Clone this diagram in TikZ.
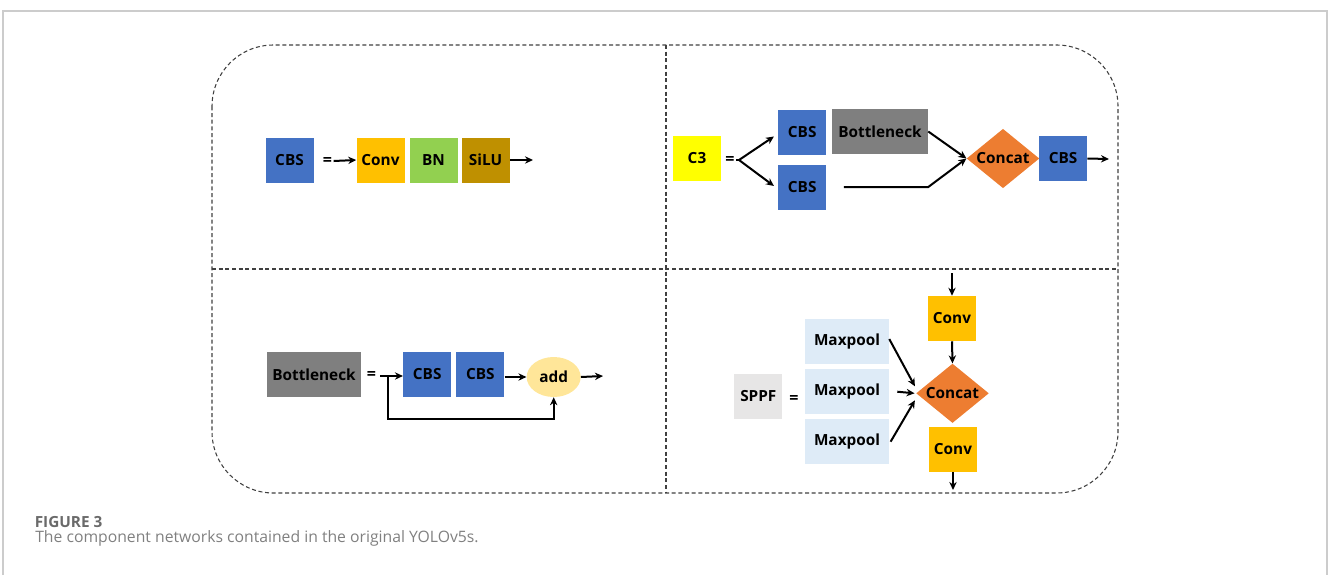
\documentclass[tikz,border=0pt]{standalone}
\usepackage{fontspec}
\setmainfont{Open Sans}
\usetikzlibrary{shapes.geometric,arrows.meta}
\definecolor{cbsblue}{HTML}{4472C4}
\definecolor{convor}{HTML}{FFC000}
\definecolor{bngreen}{HTML}{92D050}
\definecolor{silubr}{HTML}{BF9000}
\definecolor{cthree}{HTML}{FFFF00}
\definecolor{bottgray}{HTML}{7F7F7F}
\definecolor{concator}{HTML}{ED7D31}
\definecolor{addyel}{HTML}{FFE699}
\definecolor{sppfgray}{HTML}{E7E6E6}
\definecolor{mpblue}{HTML}{DEEBF7}
\definecolor{framegray}{HTML}{404040}
\definecolor{capgray}{HTML}{6A6A6A}
\tikzset{
  blk/.style={rectangle, inner sep=0pt, font=\fontsize{11.5}{13}\selectfont\bfseries, text=black},
  sq/.style={blk, minimum width=36pt, minimum height=33.75pt},
  cbs/.style={sq, fill=cbsblue},
  conv/.style={sq, fill=convor},
  bottbox/.style={blk, fill=bottgray, minimum width=71pt, minimum height=33.5pt},
  mpbox/.style={blk, fill=mpblue, minimum width=63pt, minimum height=33.5pt},
  concatd/.style={diamond, fill=concator, inner sep=0pt, minimum width=54.5pt, minimum height=44.5pt,
     label={[font=\fontsize{11.5}{13}\selectfont\bfseries, text=black]center:Concat}},
  eqs/.style={inner sep=1pt, font=\fontsize{12}{13}\selectfont\bfseries},
  arr/.style={draw=black, line width=1.5pt, -{Stealth[length=6pt,width=5.5pt]}},
  ln/.style={draw=black, line width=1.5pt},
  frame/.style={draw=framegray, line width=0.8pt, dash pattern=on 3pt off 2pt},
}
\begin{document}
\begin{tikzpicture}[x=0.75pt, y=-0.75pt]
\useasboundingbox (0,0) rectangle (1328,575);
% outer light frame
\draw[draw=black!20, line width=1pt] (3,575) -- (3,11) -- (1327,11) -- (1327,575);
% dashed rounded frame and dividers
\draw[frame, rounded corners=46pt] (212,45) rectangle (1118,493);
\draw[frame] (666,45) -- (666,493);
\draw[frame] (212,269) -- (1118,269);

% ---------- Panel 1: CBS ----------
\node[cbs] (cbs1) at (289.5,160) {CBS};
\node[eqs] (eq1) at (327.5,161) {=};
\node[conv] (conv1) at (380.5,160) {Conv};
\node[sq, fill=bngreen] (bn1) at (433.5,160) {BN};
\node[sq, fill=silubr] (silu1) at (485.5,160) {SiLU};
\coordinate (out1) at (533,160);
\draw[arr] (eq1.east) -- (conv1.west);
\draw[arr] (silu1.east) -- (out1);

% ---------- Panel 2: C3 ----------
\node[sq, fill=cthree] (c3) at (697,158) {C3};
\node[eqs] (eq2) at (730,160) {=};
\coordinate (br2) at (739,160);
\node[cbs] (cbs2a) at (802.2,132.5) {CBS};
\node[bottbox, minimum width=72pt] (bott2) at (880,131.5) {Bottleneck};
\node[cbs] (cbs2b) at (802.2,187) {CBS};
\node[concatd] (cat2) at (1003,158.5) {};
\node[cbs] (cbs2c) at (1063,158.5) {CBS};
\coordinate (out2) at (1109,159);
\draw[ln] (eq2.east) -- (br2);
\draw[arr] (br2) -- ([shift={(-4,4)}]cbs2a.west);
\draw[arr] (br2) -- ([shift={(-4,-1)}]cbs2b.west);
\draw[arr] (bott2.east) -- (cat2.west);
\draw[arr] ([xshift=13]cbs2b.east) -- (bott2.east |- cbs2b.east) -- (cat2.west);
\draw[arr] (cbs2c.east) -- (out2);

% ---------- Panel 3: Bottleneck ----------
\node[bottbox] (bott3) at (314,374.5) {Bottleneck};
\node[eqs] (eq3) at (371.5,375) {=};
\coordinate (sp3) at (380,376);
\coordinate (fb3) at (388,376);
\node[cbs] (cbs3a) at (427.2,374) {CBS};
\node[cbs] (cbs3b) at (480.3,374) {CBS};
\node[ellipse, fill=addyel, inner sep=0pt, minimum width=40.5pt, minimum height=30pt,
      font=\fontsize{11.5}{13}\selectfont\bfseries] (add3) at (553.7,377) {add};
\coordinate (fbl3) at (388,419);
\coordinate (out3) at (603,376);
\draw[arr] (sp3) -- (cbs3a.west |- sp3);
\draw[arr] (fb3) -- (fbl3) -| (add3.south);
\draw[arr] (cbs3b.east |- add3.west) -- (add3.west);
\draw[arr] (add3.east) -- (out3);

% ---------- Panel 4: SPPF ----------
\node[sq, fill=sppfgray] (sppf) at (758.3,396.5) {SPPF};
\node[eqs] (eq4) at (794,399) {=};
\node[mpbox] (mp1) at (847,341.7) {Maxpool};
\node[mpbox] (mp2) at (847,391.7) {Maxpool};
\node[mpbox] (mp3) at (847,441.7) {Maxpool};
\node[concatd] (cat4) at (952.5,393.3) {};
\node[conv] (conv4a) at (952,318.5) {Conv};
\node[conv] (conv4b) at (953,449) {Conv};
\coordinate (in4) at (952,273);
\coordinate (out4) at (953,490);
\draw[arr] (in4) -- (conv4a.north);
\draw[arr] (conv4a.south) -- (cat4.north);
\draw[arr] ([yshift=2]mp1.east) -- ([shift={(-1,-7)}]cat4.west);
\draw[arr] ([xshift=6]mp2.east) -- ([xshift=-1]cat4.west);
\draw[arr] ([xshift=1]mp3.east) -- ([shift={(-1,7)}]cat4.west);
\draw[arr] (conv4b.south) -- (out4);

% ---------- Caption ----------
\node[anchor=base west, inner sep=0pt, text=capgray, font=\fontsize{11.5}{13}\selectfont\bfseries] (figlab) at (34.5,527) {FIGURE 3};
\node[anchor=base west, inner sep=0pt, text=capgray!85, font=\fontsize{11.8}{14}\selectfont] (figcap) at (35,542.5) {The component networks contained in the original YOLOv5s.};
\end{tikzpicture}
\end{document}
